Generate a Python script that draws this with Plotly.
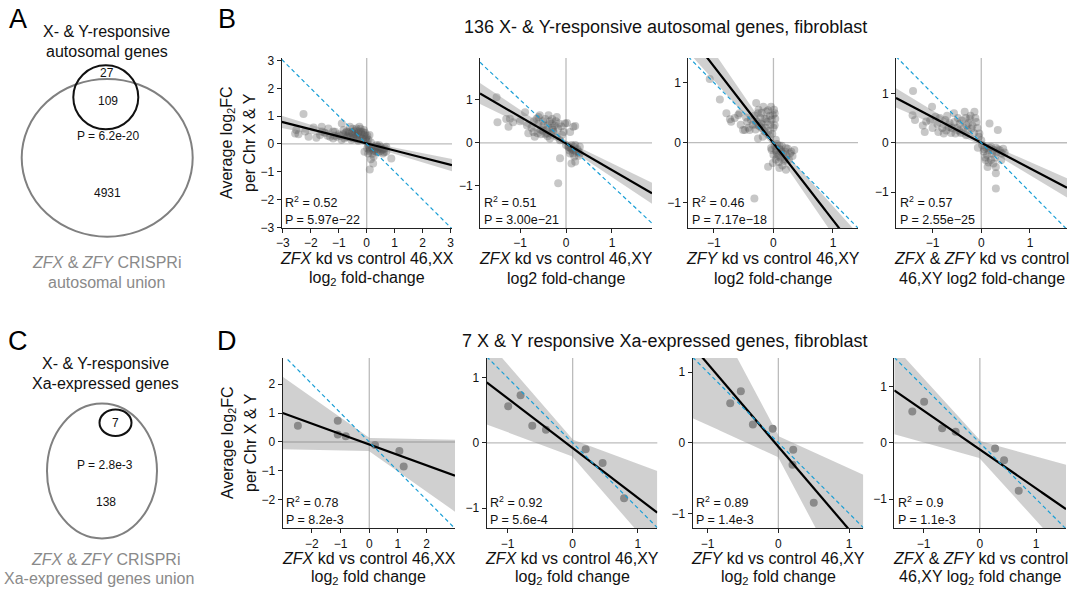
import numpy as np
import plotly.graph_objects as go

W, H = 1081, 589
FONT = "Liberation Sans, Arial, Helvetica, sans-serif"

# ---------------- data ----------------
b1_x = [-2.26, -2.52, -2.44, -2.56, -2.08, -2.2, -1.9, -1.8, -1.61, -1.67, -1.5, -1.37, -1.31, -1.2, -1.13,
        -1.07, -1.0, -0.89, -0.83, -0.9, -0.7, -0.65, -0.6, -0.55, -0.49, -0.45, -0.4, -0.37, -0.31, -0.3,
        -0.26, -0.2, -0.15, -0.1, -0.08, -0.02, 0.0, 0.1, 0.15, 0.05, 0.17, 0.35, 0.46, 0.7, 0.3, 0.4, 0.5,
        0.6, 0.88, 0.05, 0.23, 0.11, 0.58, 0.35, 0.7, -0.08, 0.25, 0.15, -0.5, -0.75,
        -0.95, -0.85, -0.8, -0.72, -0.68, -0.62, -0.58, -0.52, -0.48, -0.42, -0.38, -0.35, -0.33, -0.28,
        -0.25, -0.22, -0.18, -0.14, -0.12, -0.06, -0.04, 0.02, 0.06, -1.2, -1.4, -1.6, -1.15,
        0.08, 0.12, 0.2, 0.25, 0.3, 0.38, 0.42, 0.5, 0.55, 0.62, 0.2, 0.1, 0.45, 0.65, 0.02]
b1_y = [1.08, 0.5, 0.35, 0.38, 0.26, 0.45, 0.59, 0.22, 0.62, 0.32, 0.4, 0.56, 0.26, 0.2, 0.44,
        0.26, 0.35, 0.74, 0.5, 0.15, 0.25, 0.44, 0.62, 0.15, 0.32, 0.45, 0.25, 0.56, 0.38, 0.12,
        0.62, 0.44, 0.2, 0.5, 0.32, 0.23, 0.1, 0.32, 0.05, -0.04, -0.1, -0.04, -0.16, -0.1, -0.2, -0.1, -0.25,
        -0.2, -0.52, -0.34, -0.7, -0.92, -0.34, -0.28, -0.28, -0.28, -0.45, -0.55, 0.55, 0.4,
        0.3, 0.35, 0.2, 0.45, 0.3, 0.38, 0.25, 0.42, 0.2, 0.35, 0.48, 0.18, 0.3, 0.45,
        0.25, 0.55, 0.35, 0.42, 0.15, 0.4, 0.18, 0.3, 0.15, 0.45, 0.3, 0.45, 0.3,
        -0.12, -0.2, -0.15, -0.25, -0.08, -0.2, -0.3, -0.12, -0.2, -0.3, -0.35, -0.25, -0.05, -0.15, -0.15]

b2_x = [-1.51, -1.49, -1.25, -1.22, -1.15, -0.89, -0.82, -0.71, -0.64, -0.57, -0.49, -0.42, -0.38, -0.31,
        -0.27, -0.2, -0.17, -0.02, 0.16, 0.09, -0.09, -0.68, -0.35, -0.13, 0.06, 0.16, 0.27, 0.09, 0.2, 0.12,
        -0.13, -0.17, 0.3, 0.2, 0.02, -0.55, -0.45, -0.3, -0.6, -0.75, 0.2, 0.1,
        -0.5, -0.45, -0.4, -0.35, -0.3, -0.25, -0.22, -0.15, -0.1, -0.5, -0.42, -0.33, -0.28, -0.62, -0.55,
        -0.4, -0.2, -0.05, -0.6, -0.7, -0.85, -1.0, -1.3,
        0.05, 0.12, 0.18, 0.22, 0.25, 0.15, 0.08, 0.28, 0.18, 0.3, 0.12, 0.0]
b2_y = [1.06, 0.48, 0.37, 0.56, 0.48, 0.71, 0.22, 0.25, 0.56, 0.64, 0.41, 0.22, 0.64, 0.45,
        0.25, 0.6, 0.33, 0.45, 0.37, 0.25, 0.18, 0.14, 0.1, 0.06, -0.09, -0.17, -0.21, -0.25, -0.44, -0.48,
        -0.36, -0.94, -0.09, 0.39, 0.46, 0.3, 0.2, 0.35, 0.45, 0.35, -0.05, -0.12,
        0.5, 0.55, 0.4, 0.5, 0.55, 0.4, 0.5, 0.45, 0.38, 0.28, 0.3, 0.22, 0.3, 0.22, 0.2,
        0.15, 0.15, 0.25, 0.6, 0.5, 0.4, 0.5, 0.55,
        -0.1, -0.15, -0.1, -0.2, -0.15, -0.25, -0.18, -0.3, -0.32, -0.25, -0.05, -0.05]

b3_x = [-1.07, -0.9, -0.79, -0.73, -0.71, -0.65, -0.59, -0.57, -0.51, -0.48, -0.4, -0.38, -0.29, -0.26,
        -0.21, -0.15, -0.09, -0.04, -0.01, 0.02, -0.07, -0.18, -0.26, 0.02, -0.12, -0.04, 0.04, 0.13, 0.21,
        0.3, 0.07, 0.19, -0.09, -0.01, 0.1, 0.21, -0.32, -0.3, -0.2, 0.1,
        -0.35, -0.32, -0.3, -0.28, -0.25, -0.24, -0.22, -0.2, -0.18, -0.17, -0.15, -0.13, -0.12, -0.1, -0.08,
        -0.06, -0.05, -0.03, -0.02, 0.0, 0.01, 0.03, 0.04, -0.44, -0.42, -0.46, -0.55,
        0.02, 0.05, 0.06, 0.08, 0.1, 0.12, 0.14, 0.16, 0.18, 0.2, 0.22, 0.24, 0.26, 0.28, 0.32, 0.35, 0.15,
        0.09, 0.12, 0.04, 0.0, -0.03]
b3_y = [1.06, 0.72, 0.49, 0.39, 0.35, 0.41, 0.46, 0.49, 0.21, 0.21, 0.21, 0.38, 0.66, 0.49,
        0.32, 0.19, 0.54, 0.6, 0.46, 0.29, 0.13, 0.1, 0.07, 0.49, 0.4, -0.09, -0.12, -0.15, -0.09,
        -0.15, -0.23, -0.27, -0.4, -0.34, -0.42, -0.45, -0.93, 0.3, 0.25, -0.05,
        0.3, 0.45, 0.22, 0.35, 0.55, 0.28, 0.42, 0.5, 0.3, 0.6, 0.4, 0.25, 0.52, 0.35, 0.2,
        0.45, 0.3, 0.38, 0.15, 0.25, 0.55, 0.4, 0.05, 0.35, 0.25, 0.42, 0.3,
        -0.05, -0.15, -0.02, -0.2, -0.1, -0.25, -0.05, -0.18, -0.3, -0.15, -0.22, -0.1, -0.28, -0.18, -0.22, -0.12,
        -0.38, -0.32, -0.12, -0.28, -0.2, -0.12]

b4_x = [-1.4, -1.41, -1.36, -1.16, -1.13, -1.01, -0.94, -0.88, -0.77, -0.74, -0.67, -0.56, -0.53, -0.44,
        -0.34, -0.31, -0.24, -0.2, -0.14, -0.1, -0.04, 0.17, 0.34, -0.07, 0.06, 0.17, 0.34, 0.48, 0.09, 0.2,
        0.3, 0.13, 0.3, 0.3, 0.41, -0.6, -0.45, -0.3,
        -1.2, -1.05, -1.0, -0.9, -0.85, -0.8, -0.72, -0.7, -0.65, -0.62, -0.55, -0.5, -0.48, -0.42, -0.4,
        -0.36, -0.32, -0.28, -0.26, -0.22, -0.18, -0.15, -0.12, -0.08, -0.05, 0.0,
        0.02, 0.05, 0.1, 0.12, 0.15, 0.2, 0.22, 0.25, 0.28, 0.3, 0.32, 0.38, 0.42, 0.45, 0.15, 0.25, 0.08]
b4_y = [1.05, 0.56, 0.46, 0.22, 0.43, 0.73, 0.53, 0.22, 0.19, 0.46, 0.32, 0.6, 0.19, 0.39,
        0.63, 0.15, 0.49, 0.29, 0.63, 0.42, 0.19, 0.39, 0.26, -0.1, -0.13, -0.1, -0.13, -0.2, -0.35, -0.35,
        -0.49, -0.49, -0.62, -0.93, -0.35, 0.3, 0.25, 0.35,
        0.35, 0.45, 0.3, 0.38, 0.5, 0.3, 0.25, 0.55, 0.4, 0.2, 0.42, 0.3, 0.5, 0.2, 0.45,
        0.3, 0.5, 0.25, 0.4, 0.55, 0.35, 0.2, 0.5, 0.3, 0.12, 0.05,
        -0.05, -0.18, -0.1, -0.25, -0.15, -0.08, -0.22, -0.15, -0.3, -0.1, -0.2, -0.15, -0.22, -0.12, -0.4, -0.42, -0.3]

# fitted lines of the 136-gene panels (slope, intercept)
b_fit_slope = [-0.255, -0.62, -1.28, -0.52]
b_fit_icpt = [0.02, -0.015, -0.01, 0.0]
b_n_genes = 136

d1_x = [-2.49, -1.1, -1.1, -0.82, 0.2, 1.05, 1.2]
d2_x = [-0.99, -0.8, -0.62, -0.41, 0.2, 0.46, 0.79]
d3_x = [-0.68, -0.53, -0.36, -0.08, 0.21, 0.2, 0.5]
d4_x = [-1.2, -0.99, -0.67, -0.43, 0.27, 0.43, 0.69]
d_y = [0.56, 0.73, 0.26, 0.2, -0.1, -0.31, -0.85]

b_r2 = ["0.52", "0.51", "0.46", "0.57"]
b_p = ["5.97e\u221222", "3.00e\u221221", "7.17e\u221218", "2.55e\u221225"]
d_r2 = ["0.78", "0.92", "0.89", "0.9"]
d_p = ["8.2e-3", "5.6e-4", "1.4e-3", "1.1e-3"]

b_xlab = [["<i>ZFX</i> kd vs control 46,XX", "log<sub>2</sub> fold-change"],
          ["<i>ZFX</i> kd vs control 46,XY", "log2 fold-change"],
          ["<i>ZFY</i> kd vs control 46,XY", "log2 fold-change"],
          ["<i>ZFX</i> & <i>ZFY</i> kd vs control", "46,XY log2 fold-change"]]
d_xlab = [["<i>ZFX</i> kd vs control 46,XX", "log<sub>2</sub> fold change"],
          ["<i>ZFX</i> kd vs control 46,XY", "log<sub>2</sub> fold change"],
          ["<i>ZFY</i> kd vs control 46,XY", "log<sub>2</sub> fold change"],
          ["<i>ZFX</i> & <i>ZFY</i> kd vs control", "46,XY log<sub>2</sub> fold change"]]

venn_a_counts = ["27", "109", "4931"]
venn_a_p = "P = 6.2e-20"
venn_c_counts = ["7", "138"]
venn_c_p = "P = 2.8e-3"

# ---------------- layout geometry (pixels) ----------------
panels = [
    (b1_x, b1_y, 281.7, 452, 58, 228, [-3.04, 3.05], [-3.02, 3.09], [-3, -2, -1, 0, 1, 2, 3], [-3, -2, -1, 0, 1, 2, 3], "B"),
    (b2_x, b2_y, 480, 652, 58, 228, [-1.87, 1.87], [-1.98, 1.97], [-1, 0, 1], [-1, 0, 1], "B"),
    (b3_x, b3_y, 688.3, 858, 58, 228, [-1.43, 1.42], [-1.42, 1.41], [-1, 0, 1], [-1, 0, 1], "B"),
    (b4_x, b4_y, 896, 1067, 58, 228, [-1.75, 1.76], [-1.73, 1.72], [-1, 0, 1], [-1, 0, 1], "B"),
    (d1_x, d_y, 282.7, 455, 358, 528.3, [-3.02, 2.99], [-2.98, 2.9], [-2, -1, 0, 1, 2], [-2, -1, 0, 1, 2], "D"),
    (d2_x, d_y, 486.7, 657.3, 358, 528.3, [-1.32, 1.3], [-1.31, 1.3], [-1, 0, 1], [-1, 0, 1], "D"),
    (d3_x, d_y, 692.7, 863.3, 358, 528.3, [-1.21, 1.2], [-1.21, 1.2], [-1, 0, 1], [-1, 0, 1], "D"),
    (d4_x, d_y, 894.3, 1066, 358, 528.3, [-1.52, 1.53], [-1.52, 1.51], [-1, 0, 1], [-1, 0, 1], "D"),
]

Z = {0.95: 1.644854, 0.975: 1.959964, 0.995: 2.575829}


def fx(px):
    return px / W


def fy(py):
    return 1 - py / H


def tq(p, df):
    z = Z[p]
    return (z + (z ** 3 + z) / (4 * df) + (5 * z ** 5 + 16 * z ** 3 + 3 * z) / (96 * df ** 2)
            + (3 * z ** 7 + 19 * z ** 5 + 17 * z ** 3 - 15 * z) / (384 * df ** 3))


fig = go.Figure()
layout = dict(width=W, height=H, margin=dict(l=0, r=0, t=0, b=0, pad=0), showlegend=False, autosize=False,
              paper_bgcolor="white", plot_bgcolor="white", font=dict(family=FONT, color="#111"))
shapes = []
annotations = []

for i, (xs, ys, L, R, T, B, xr, yr, xt, yt, row) in enumerate(panels):
    n = i + 1
    xa = "x" if n == 1 else f"x{n}"
    ya = "y" if n == 1 else f"y{n}"
    axis_common = dict(showgrid=False, zeroline=False, showline=True, linecolor="#222", linewidth=1,
                       ticks="outside", ticklen=4, tickwidth=1, tickcolor="#222", automargin=False,
                       tickfont=dict(size=12, family=FONT, color="#111"), fixedrange=True)
    layout["xaxis" if n == 1 else f"xaxis{n}"] = dict(domain=[fx(L), fx(R)], range=xr, tickvals=xt,
                                                       anchor=ya, **axis_common)
    layout["yaxis" if n == 1 else f"yaxis{n}"] = dict(domain=[fy(B), fy(T)], range=yr, tickvals=yt,
                                                       anchor=xa, **axis_common)
    shapes.append(dict(type="line", xref=xa, yref=f"{ya} domain", x0=0, x1=0, y0=0, y1=1,
                       line=dict(color="#bcbcbc", width=1.3), layer="below"))
    shapes.append(dict(type="line", xref=f"{xa} domain", yref=ya, x0=0, x1=1, y0=0, y1=0,
                       line=dict(color="#bcbcbc", width=1.3), layer="below"))

    x = np.array(xs, float)
    y = np.array(ys, float)
    k = i if row == "B" else i - 4
    nn = len(x)
    if row == "B":
        mk = dict(size=8, color="rgba(85,85,85,0.33)", line=dict(width=0))
        band = "rgba(120,120,120,0.35)"
        slope, icpt = b_fit_slope[k], b_fit_icpt[k]
        n_eff = b_n_genes
        pa, pb = 0.975, 0.975
    else:
        mk = dict(size=8, color="#808080", line=dict(width=0))
        band = "rgba(150,150,150,0.45)"
        slope, icpt = np.polyfit(x, y, 1)
        n_eff = nn
        pa, pb = 0.95, 0.995
    fig.add_trace(go.Scatter(x=x, y=y, mode="markers", marker=mk, xaxis=xa, yaxis=ya, hoverinfo="skip"))

    # band = envelope of lines with intercept / slope inside their confidence intervals
    resid = y - (slope * x + icpt)
    s = np.sqrt(np.sum(resid ** 2) / (nn - 2))
    sxx = np.sum((x - x.mean()) ** 2) * n_eff / nn
    se_b = s / np.sqrt(sxx)
    se_a = s * np.sqrt(1 / n_eff + x.mean() ** 2 / sxx)
    ta, tb = tq(pa, n_eff - 2), tq(pb, n_eff - 2)
    gx = np.linspace(xr[0], xr[1], 201)
    gy = slope * gx + icpt
    cands = np.array([(icpt + da * ta * se_a) + (slope + db * tb * se_b) * gx
                      for da in (-1, 1) for db in (-1, 1)])
    up, lo = cands.max(axis=0), cands.min(axis=0)
    fig.add_trace(go.Scatter(x=np.concatenate([gx, gx[::-1]]), y=np.concatenate([up, lo[::-1]]),
                             fill="toself", fillcolor=band, line=dict(width=0), mode="lines",
                             xaxis=xa, yaxis=ya, hoverinfo="skip"))
    fig.add_trace(go.Scatter(x=gx, y=gy, mode="lines", line=dict(color="black", width=2.2),
                             xaxis=xa, yaxis=ya, hoverinfo="skip"))
    fig.add_trace(go.Scatter(x=[xr[0], xr[1]], y=[-xr[0], -xr[1]], mode="lines",
                             line=dict(color="#1a9fd6", width=1.2, dash="4px,3px"),
                             xaxis=xa, yaxis=ya, hoverinfo="skip"))

    r2 = b_r2[k] if row == "B" else d_r2[k]
    pv = b_p[k] if row == "B" else d_p[k]
    annotations.append(dict(x=fx(L + 1.5), y=fy(B - 26), xref="paper", yref="paper", xanchor="left",
                            yanchor="middle", text=f"R<sup>2</sup> = {r2}", showarrow=False,
                            font=dict(size=12.5, family=FONT, color="#111")))
    annotations.append(dict(x=fx(L + 1.5), y=fy(B - 8), xref="paper", yref="paper", xanchor="left",
                            yanchor="middle", text=f"P = {pv}", showarrow=False,
                            font=dict(size=12.5, family=FONT, color="#111")))
    labs = b_xlab[k] if row == "B" else d_xlab[k]
    cx = (L + R) / 2
    y1, y2 = (B + 30, B + 51) if row == "B" else (B + 30, B + 49)
    for txt, yy in zip(labs, (y1, y2)):
        annotations.append(dict(x=fx(cx), y=fy(yy), xref="paper", yref="paper", xanchor="center",
                                yanchor="middle", text=txt, showarrow=False,
                                font=dict(size=16, family=FONT, color="#111")))

for yc in (143, 443):
    annotations.append(dict(x=fx(228), y=fy(yc), xref="paper", yref="paper", xanchor="center",
                            yanchor="middle", text="Average log<sub>2</sub>FC", textangle=-90,
                            showarrow=False, font=dict(size=16, family=FONT, color="#111")))
    annotations.append(dict(x=fx(250), y=fy(yc), xref="paper", yref="paper", xanchor="center",
                            yanchor="middle", text="per Chr X & Y", textangle=-90,
                            showarrow=False, font=dict(size=16, family=FONT, color="#111")))

annotations.append(dict(x=fx(665), y=fy(27), xref="paper", yref="paper", xanchor="center", yanchor="middle",
                        text="136 X- & Y-responsive autosomal genes, fibroblast", showarrow=False,
                        font=dict(size=18, family=FONT, color="#111")))
annotations.append(dict(x=fx(665), y=fy(341), xref="paper", yref="paper", xanchor="center", yanchor="middle",
                        text="7 X & Y responsive Xa-expressed genes, fibroblast", showarrow=False,
                        font=dict(size=18, family=FONT, color="#111")))

for letter, px, py in (("A", 18, 19), ("B", 227, 19), ("C", 18, 341), ("D", 227, 341)):
    annotations.append(dict(x=fx(px), y=fy(py), xref="paper", yref="paper", xanchor="center",
                            yanchor="middle", text=letter, showarrow=False,
                            font=dict(size=27, family=FONT, color="#000")))

# ---------------- Venn A ----------------
shapes.append(dict(type="circle", xref="paper", yref="paper", x0=fx(21.7), x1=fx(192.7), y0=fy(236.7), y1=fy(79),
                   line=dict(color="#808080", width=2)))
shapes.append(dict(type="circle", xref="paper", yref="paper", x0=fx(73.3), x1=fx(138.3), y0=fy(129.3), y1=fy(65.3),
                   line=dict(color="#111", width=2)))
for txt, px, py in ((venn_a_counts[0], 107, 73), (venn_a_counts[1], 108, 101), (venn_a_p, 108, 136),
                    (venn_a_counts[2], 107, 193)):
    annotations.append(dict(x=fx(px), y=fy(py), xref="paper", yref="paper", xanchor="center", yanchor="middle",
                            text=txt, showarrow=False, font=dict(size=12, family=FONT, color="#111")))
for txt, px, py, col in (("X- & Y-responsive", 106, 32, "#111"), ("autosomal genes", 107, 51, "#111"),
                         ("<i>ZFX</i> & <i>ZFY</i> CRISPRi", 106, 262, "#8a8a8a"),
                         ("autosomal union", 106, 282, "#8a8a8a")):
    annotations.append(dict(x=fx(px), y=fy(py), xref="paper", yref="paper", xanchor="center", yanchor="middle",
                            text=txt, showarrow=False, font=dict(size=16, family=FONT, color=col)))

# ---------------- Venn C ----------------
shapes.append(dict(type="circle", xref="paper", yref="paper", x0=fx(47), x1=fx(157), y0=fy(538.5), y1=fy(403.5),
                   line=dict(color="#808080", width=2)))
shapes.append(dict(type="circle", xref="paper", yref="paper", x0=fx(99.5), x1=fx(131.5), y0=fy(436), y1=fy(409.5),
                   line=dict(color="#111", width=2)))
for txt, px, py in ((venn_c_counts[0], 115.5, 423), (venn_c_p, 105, 465), (venn_c_counts[1], 106, 502)):
    annotations.append(dict(x=fx(px), y=fy(py), xref="paper", yref="paper", xanchor="center", yanchor="middle",
                            text=txt, showarrow=False, font=dict(size=12, family=FONT, color="#111")))
for txt, px, py, col in (("X- & Y-responsive", 105, 363, "#111"), ("Xa-expressed genes", 105, 383, "#111"),
                         ("<i>ZFX</i> & <i>ZFY</i> CRISPRi", 105, 559, "#8a8a8a"),
                         ("Xa-expressed genes union", 99, 578, "#8a8a8a")):
    annotations.append(dict(x=fx(px), y=fy(py), xref="paper", yref="paper", xanchor="center", yanchor="middle",
                            text=txt, showarrow=False, font=dict(size=16, family=FONT, color=col)))

layout["shapes"] = shapes
layout["annotations"] = annotations
fig.update_layout(**layout)
fig.write_html("out.html", config={"displayModeBar": False},
               post_script="document.body.style.margin='0px';document.body.style.overflow='hidden';")
